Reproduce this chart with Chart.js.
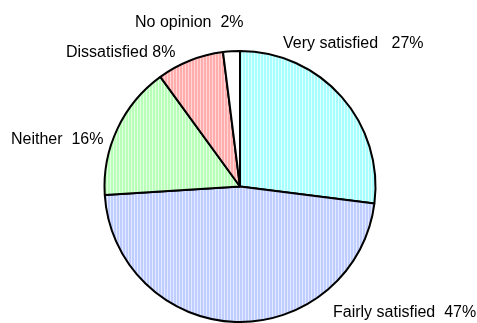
<!DOCTYPE html>
<html>
<head>
<meta charset="utf-8">
<script src="https://cdn.jsdelivr.net/npm/chart.js@4.4.0/dist/chart.umd.min.js"></script>
<style>
html,body{margin:0;padding:0;background:#fff;}
#wrap{width:477px;height:323px;}
</style>
</head>
<body>
<div id="wrap"><canvas id="c" width="477" height="323"></canvas></div>
<script>
const categories = ["Very satisfied", "Fairly satisfied", "Neither", "Dissatisfied", "No opinion"];
const values = [27, 47, 16, 8, 2];
const labelTexts = ["Very satisfied   27%", "Fairly satisfied  47%", "Neither  16%", "Dissatisfied 8%", "No opinion  2%"];

const stripeColors = [
  ["#a8ffff", "#e0ffff"],
  ["#bfcdff", "#e4eaff"],
  ["#b8ffb8", "#e2ffe2"],
  ["#ffadad", "#ffd6d6"],
  ["#ffffff", "#ffffff"]
];
function makePattern(c) {
  const cv = document.createElement('canvas');
  cv.width = 3; cv.height = 4;
  const x = cv.getContext('2d');
  x.fillStyle = c[0]; x.fillRect(0, 0, 2, 4);
  x.fillStyle = c[1]; x.fillRect(2, 0, 1, 4);
  return x.createPattern(cv, 'repeat');
}
const fills = stripeColors.map(makePattern);

// label anchor positions (text layout, left edge and vertical middle)
const labelPos = [[283, 44], [333, 313], [11, 140], [66, 53], [135, 23]];

const labelPlugin = {
  id: 'sliceLabels',
  afterDraw(chart) {
    const ctx = chart.ctx;
    ctx.save();
    ctx.font = '16px "Liberation Sans", Arial, sans-serif';
    ctx.fillStyle = '#000';
    ctx.textAlign = 'left';
    ctx.textBaseline = 'middle';
    labelTexts.forEach((t, i) => ctx.fillText(t, labelPos[i][0], labelPos[i][1]));
    ctx.restore();
  }
};

new Chart(document.getElementById('c'), {
  type: 'pie',
  data: {
    labels: categories,
    datasets: [{
      data: values,
      backgroundColor: fills,
      borderColor: '#000',
      borderWidth: 2
    }]
  },
  options: {
    responsive: false,
    animation: false,
    layout: { padding: { left: 103, right: 100, top: 50, bottom: 0 } },
    plugins: { legend: { display: false }, tooltip: { enabled: false } }
  },
  plugins: [labelPlugin]
});
</script>
</body>
</html>
